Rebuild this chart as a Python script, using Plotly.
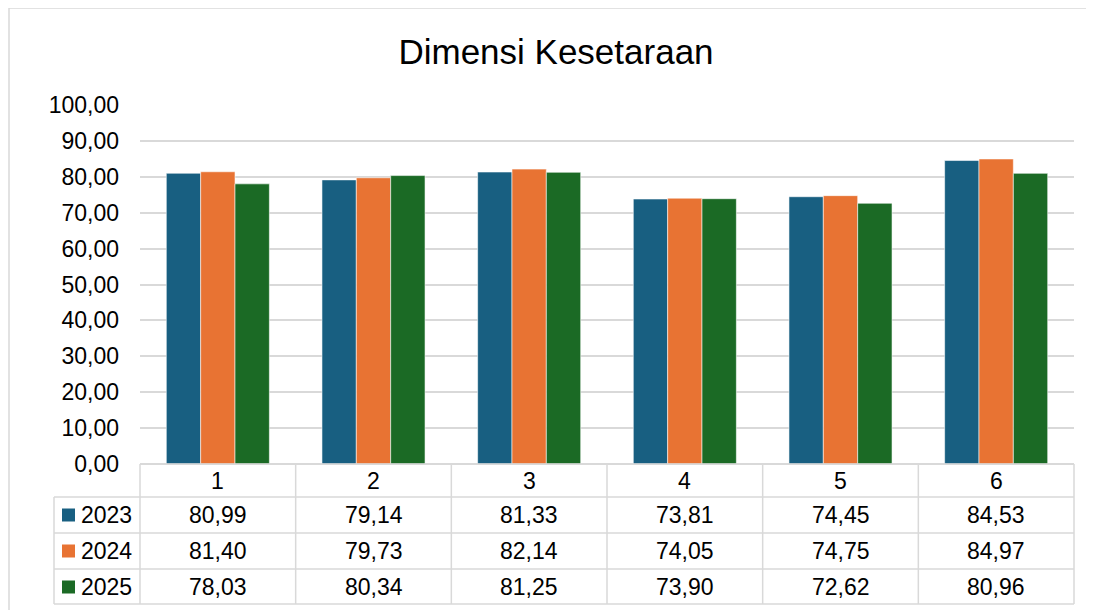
import plotly.graph_objects as go

categories = ["1", "2", "3", "4", "5", "6"]
years = ["2023", "2024", "2025"]
v2023 = [80.99, 79.14, 81.33, 73.81, 74.45, 84.53]
v2024 = [81.40, 79.73, 82.14, 74.05, 74.75, 84.97]
v2025 = [78.03, 80.34, 81.25, 73.90, 72.62, 80.96]
yticks = [0, 10, 20, 30, 40, 50, 60, 70, 80, 90, 100]

series = [v2023, v2024, v2025]
colors = ["#185F81", "#E87333", "#1B6A25"]

W, H = 1094, 610
OFF = 8  # page offset of the figure div
font = "Liberation Sans, Arial, sans-serif"
grid = "#D9D9D9"

def px(x):
    return (x - OFF) / W

def py(y):
    return 1 - (y - OFF) / H

xdom = [px(140), px(1074)]
ydom = [py(464), py(105)]
xpos = list(range(1, len(categories) + 1))

def xcat(v):
    # category position -> paper fraction
    return xdom[0] + (v - 0.5) / len(categories) * (xdom[1] - xdom[0])

fig = go.Figure()
for name, vals, c in zip(years, series, colors):
    fig.add_trace(go.Bar(
        x=xpos, y=vals, name=name,
        marker=dict(color=c, line=dict(color="rgba(255,255,255,0.7)", width=0.8)),
        showlegend=False
    ))

fig.update_layout(
    width=W, height=H,
    margin=dict(l=0, r=0, t=0, b=0, autoexpand=False),
    paper_bgcolor="white", plot_bgcolor="white",
    barmode="group", bargap=0.338, bargroupgap=0,
    font=dict(family=font, size=23, color="black"),
    title=dict(text="Dimensi Kesetaraan", x=px(556), xanchor="center",
               y=py(52), yanchor="middle",
               font=dict(family=font, size=35, color="black")),
    xaxis=dict(domain=xdom, range=[0.5, len(categories) + 0.5],
               showticklabels=False, showgrid=False, zeroline=False,
               showline=False, fixedrange=True, automargin=False),
    yaxis=dict(domain=ydom, range=[0, 100], tickvals=yticks,
               ticktext=["{:.2f}".format(t).replace(".", ",") for t in yticks],
               showgrid=True, gridcolor=grid, gridwidth=1.5,
               zeroline=True, zerolinecolor=grid, zerolinewidth=1.5,
               showline=False, ticklabelstandoff=20, automargin=False,
               tickfont=dict(family=font, size=23, color="black")),
)

shapes = []
# outer chart border (left and top)
shapes.append(dict(type="line", xref="paper", yref="paper",
                   x0=px(9), x1=1, y0=py(8), y1=py(8), line=dict(color=grid, width=1.5)))
shapes.append(dict(type="line", xref="paper", yref="paper",
                   x0=px(9), x1=px(9), y0=py(8), y1=0, line=dict(color=grid, width=1.5)))

row_edges = [464, 497, 533, 569, 604]
# horizontal table lines
for i, ry in enumerate(row_edges):
    x0 = xcat(0.5) if i == 0 else px(54)
    shapes.append(dict(type="line", xref="paper", yref="paper",
                       x0=x0, x1=xcat(len(categories) + 0.5), y0=py(ry), y1=py(ry),
                       line=dict(color=grid, width=1.5)))
# vertical table lines
for k in range(len(categories) + 1):
    shapes.append(dict(type="line", xref="paper", yref="paper",
                       x0=xcat(k + 0.5), x1=xcat(k + 0.5), y0=py(464), y1=py(604),
                       line=dict(color=grid, width=1.5)))
shapes.append(dict(type="line", xref="paper", yref="paper",
                   x0=px(54), x1=px(54), y0=py(497), y1=py(604),
                   line=dict(color=grid, width=1.5)))

annotations = []
# header row
for xv, cat in zip(xpos, categories):
    annotations.append(dict(x=xv, y=py(481), xref="x", yref="paper", text=cat,
                            showarrow=False, xanchor="center", yanchor="middle",
                            font=dict(family=font, size=23, color="black")))
row_centers = [515, 551, 587]
for r, (name, vals, c) in enumerate(zip(years, series, colors)):
    yc = row_centers[r]
    shapes.append(dict(type="rect", xref="paper", yref="paper",
                       x0=px(62), x1=px(75), y0=py(yc + 6.5), y1=py(yc - 6.5),
                       fillcolor=c, line=dict(width=0)))
    annotations.append(dict(x=px(79), y=py(yc), xref="paper", yref="paper", text=name,
                            showarrow=False, xanchor="left", yanchor="middle",
                            font=dict(family=font, size=23, color="black")))
    for xv, v in zip(xpos, vals):
        annotations.append(dict(x=xv, y=py(yc), xref="x", yref="paper",
                                text="{:.2f}".format(v).replace(".", ","),
                                showarrow=False, xanchor="center", yanchor="middle",
                                font=dict(family=font, size=23, color="black")))

fig.update_layout(shapes=shapes, annotations=annotations)
fig.write_html("out.html")
